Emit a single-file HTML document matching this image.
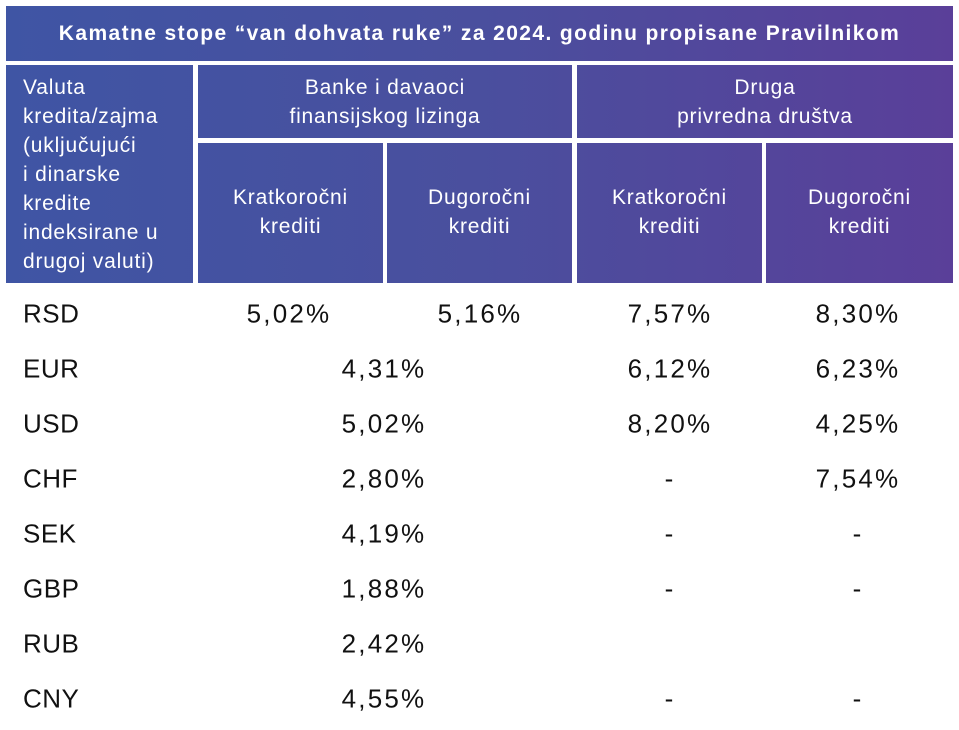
<!DOCTYPE html>
<html><head><meta charset="utf-8"><style>
body{margin:0;width:959px;height:730px;background:#fff;position:relative;overflow:hidden;font-family:"Liberation Sans",sans-serif}
.bg{position:absolute;left:6px;top:6px;width:947px;height:277px;background:linear-gradient(90deg,#3f55a4,#4a4f9e 50%,#5a3f99)}
.w{position:absolute;background:#fff}
.t{position:absolute;color:#fff;font-size:21px;line-height:29px;text-align:center;letter-spacing:0.8px}
.v{position:absolute;font-size:26px;color:#111;transform:translate(-50%,-50%);white-space:nowrap;letter-spacing:2.2px;padding-left:2px}
.c{position:absolute;font-size:26px;color:#111;transform:translateY(-50%);left:23px;letter-spacing:0.5px}
</style></head><body>
<div class="bg"></div>
<div class="w" style="left:6px;top:61px;width:947px;height:4px"></div>
<div class="w" style="left:193px;top:61px;width:5px;height:222px"></div>
<div class="w" style="left:572px;top:61px;width:5px;height:222px"></div>
<div class="w" style="left:198px;top:138px;width:755px;height:5px"></div>
<div class="w" style="left:383px;top:138px;width:4px;height:145px"></div>
<div class="w" style="left:762px;top:138px;width:4px;height:145px"></div>
<div class="t" style="left:6px;top:19px;width:947px;font-weight:bold;font-size:21px;letter-spacing:1.4px">Kamatne stope “van dohvata ruke” za 2024. godinu propisane Pravilnikom</div>
<div class="t" style="left:23px;top:73px;text-align:left;line-height:29px">Valuta<br>kredita/zajma<br>(uključujući<br>i dinarske<br>kredite<br>indeksirane u<br>drugoj valuti)</div>
<div class="t" style="left:198px;top:73px;width:374px">Banke i davaoci<br>finansijskog lizinga</div>
<div class="t" style="left:577px;top:73px;width:376px">Druga<br>privredna društva</div>
<div class="t" style="left:198px;top:183px;width:185px">Kratkoročni<br>krediti</div>
<div class="t" style="left:387px;top:183px;width:185px">Dugoročni<br>krediti</div>
<div class="t" style="left:577px;top:183px;width:185px">Kratkoročni<br>krediti</div>
<div class="t" style="left:766px;top:183px;width:187px">Dugoročni<br>krediti</div>

<div class="c" style="top:314px">RSD</div>
<div class="v" style="left:288px;top:314px">5,02%</div>
<div class="v" style="left:479px;top:314px">5,16%</div>
<div class="v" style="left:669px;top:314px">7,57%</div>
<div class="v" style="left:857px;top:314px">8,30%</div>

<div class="c" style="top:369px">EUR</div>
<div class="v" style="left:383px;top:369px">4,31%</div>
<div class="v" style="left:669px;top:369px">6,12%</div>
<div class="v" style="left:857px;top:369px">6,23%</div>

<div class="c" style="top:424px">USD</div>
<div class="v" style="left:383px;top:424px">5,02%</div>
<div class="v" style="left:669px;top:424px">8,20%</div>
<div class="v" style="left:857px;top:424px">4,25%</div>

<div class="c" style="top:479px">CHF</div>
<div class="v" style="left:383px;top:479px">2,80%</div>
<div class="v" style="left:669px;top:479px">-</div>
<div class="v" style="left:857px;top:479px">7,54%</div>

<div class="c" style="top:534px">SEK</div>
<div class="v" style="left:383px;top:534px">4,19%</div>
<div class="v" style="left:669px;top:534px">-</div>
<div class="v" style="left:857px;top:534px">-</div>

<div class="c" style="top:589px">GBP</div>
<div class="v" style="left:383px;top:589px">1,88%</div>
<div class="v" style="left:669px;top:589px">-</div>
<div class="v" style="left:857px;top:589px">-</div>

<div class="c" style="top:644px">RUB</div>
<div class="v" style="left:383px;top:644px">2,42%</div>

<div class="c" style="top:699px">CNY</div>
<div class="v" style="left:383px;top:699px">4,55%</div>
<div class="v" style="left:669px;top:699px">-</div>
<div class="v" style="left:857px;top:699px">-</div>
</body></html>
